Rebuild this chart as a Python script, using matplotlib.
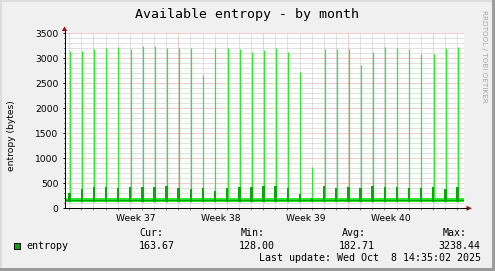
import matplotlib
matplotlib.use('Agg')
import matplotlib.pyplot as plt
from matplotlib.patches import Rectangle, Polygon
from matplotlib.lines import Line2D
from matplotlib.transforms import blended_transform_factory, offset_copy

W, H, DPI = 495, 271, 100
PX = 72.0 / DPI  # points per pixel

# ---------------- data (days since Mon 2025-09-01 00:00) ----------------
spike_days = list(range(5, 38))          # one spike per day, Sep 6 .. Oct 7
max_vals = [3153, 3153, 3193, 3213, 3227, 3193, 3238, 3238, 3213, 3213, 3213,
            2673, 3213, 3213, 3193, 3127, 3167, 3213, 3133, 2733, 832, 3187,
            3193, 3193, 2867, 3133, 3233, 3213, 3193, 3093, 3093, 3213, 3233]
avg_vals = [310, 386, 426, 426, 400, 426, 426, 426, 446, 400, 386,
            400, 346, 400, 426, 426, 446, 446, 400, 290, 200, 446,
            400, 426, 400, 446, 426, 426, 400, 400, 426, 389, 426]
base_low, base_avg, base_high = 135, 168, 205
week_starts = [7, 14, 21, 28, 35]
week_labels = ['Week 37', 'Week 38', 'Week 39', 'Week 40']
week_mids = [10.5, 17.5, 24.5, 31.5]
t_end = 37 + (14 + 35 / 60) / 24          # Wed Oct 8 14:35
t_start = t_end - 33
stat_heads = ['Cur:', 'Min:', 'Avg:', 'Max:']
stat_vals = ['163.67', '128.00', '182.71', '3238.44']
series_name = 'entropy'
title = 'Available entropy - by month'
last_update = 'Last update: Wed Oct  8 14:35:02 2025'

LIGHT = '#2fe82f'
DARK = '#08a808'
MONO = 'DejaVu Sans Mono'
SANS = 'DejaVu Sans'

fig = plt.figure(figsize=(W / DPI, H / DPI), dpi=DPI, facecolor='#f0f0f0')

ax_l, ax_r, ax_t, ax_b = 64.5, 464.5, 33.3, 208.3
ax = fig.add_axes([ax_l / W, (H - ax_b) / H, (ax_r - ax_l) / W, (ax_b - ax_t) / H])
ax.set_facecolor('white')
ax.set_xlim(t_start, t_end)
ax.set_ylim(0, 3500)
for s in ax.spines.values():
    s.set_visible(False)

# grid
gkw = dict(lw=PX, ls=(0, (1, 1)), zorder=0.5)
for d in range(5, 38):
    if d not in week_starts:
        ax.axvline(d, color='#c4c4c4', **gkw)
for d in week_starts:
    ax.axvline(d, color='#e89a9a', **gkw)
for v in range(100, 3600, 100):
    if v % 500:
        ax.axhline(v, color='#c4c4c4', **gkw)
for v in range(500, 3600, 500):
    ax.axhline(v, color='#e89a9a', **gkw)

# data
spike_t = [d + 0.06 for d in spike_days]
ax.fill_between([t_start, t_end], base_low, base_high, color=LIGHT, lw=0, zorder=2)
ax.vlines(spike_t, base_low, max_vals, color=LIGHT, lw=0.9, zorder=2)
ax.bar([t - 0.03 for t in spike_t], [a - base_low for a in avg_vals], bottom=base_low,
       width=0.2, color=DARK, lw=0, zorder=3)
ax.plot([t_start, t_end], [base_avg, base_avg], color=DARK, lw=1.3 * PX, zorder=3)

# ticks
ax.set_yticks(range(0, 3501, 500))
ax.set_yticks(range(0, 3501, 100), minor=True)
ax.set_xticks(week_starts)
ax.set_xticks(range(5, 38), minor=True)
ax.set_xticklabels([])
ax.tick_params(axis='y', which='major', direction='out', length=2 * PX, width=PX,
               pad=3, labelsize=6.6, colors='black')
ax.tick_params(axis='y', which='minor', direction='out', length=1 * PX, width=PX)
ax.tick_params(axis='x', which='both', direction='out', length=2 * PX, width=PX, color='#888888')
for lab in ax.get_yticklabels():
    lab.set_family(SANS)

trans = offset_copy(blended_transform_factory(ax.transData, ax.transAxes), fig=fig, y=-12.7, units='dots')
for m, lab in zip(week_mids, week_labels):
    ax.text(m, 0, lab, transform=trans, ha='center', va='baseline', fontsize=6.6, family=SANS)

ylab = ax.set_ylabel('entropy (bytes)', fontsize=6.6, family=SANS, labelpad=0, va='center')
ax.yaxis.set_label_coords(11.5 / W, 0.5, transform=fig.transFigure)

# decoration overlay in pixel coords
deco = fig.add_axes([0, 0, 1, 1], zorder=5)
deco.set_xlim(0, W)
deco.set_ylim(H, 0)
deco.axis('off')
deco.patch.set_alpha(0)

# borders
deco.add_patch(Rectangle((0, 0), W, 2, color='#dcdcdc', lw=0))
deco.add_patch(Rectangle((0, 0), 2, H, color='#dcdcdc', lw=0))
deco.add_patch(Rectangle((0, H - 3), W, 3, color='#9c9c9c', lw=0))
deco.add_patch(Rectangle((W - 3.5, 0), 3.5, H, color='#9c9c9c', lw=0))

# axes lines + arrows
deco.add_line(Line2D([ax_l, 467], [ax_b, ax_b], color='black', lw=PX))
deco.add_line(Line2D([ax_l, ax_l], [ax_b, 31], color='black', lw=PX))
ARROW = '#8b1010'
deco.add_patch(Polygon([[466.5, ax_b - 2.5], [466.5, ax_b + 2.5], [472, ax_b]], closed=True,
                       color=ARROW, lw=0))
deco.add_patch(Polygon([[ax_l - 2.7, 31], [ax_l + 2.7, 31], [ax_l, 26.5]], closed=True,
                       color=ARROW, lw=0))

# title
deco.text(247, 18, title, ha='center', va='baseline', fontsize=9.5, family=MONO)
# watermark
deco.text(484.3, 56.5, 'RRDTOOL / TOBI OETIKER', rotation=270, ha='center', va='center',
          fontsize=5.2, family=SANS, color='#a8a8a8')

# legend
deco.add_patch(Rectangle((13.5, 242.8), 6.8, 6.5, facecolor='#00aa00', edgecolor='black', lw=PX))
deco.text(26.7, 249, series_name, ha='left', va='baseline', fontsize=7.2, family=MONO)
head_x = [139.3, 240.3, 341.7, 442.7]
val_x = [138.3, 238.3, 338.3, 438.3]
for hx, h in zip(head_x, stat_heads):
    deco.text(hx, 236.3, h, ha='left', va='baseline', fontsize=7.2, family=MONO)
for vx, v in zip(val_x, stat_vals):
    deco.text(vx, 249, v, ha='left', va='baseline', fontsize=7.2, family=MONO)
deco.text(259.3, 260.7, last_update, ha='left', va='baseline', fontsize=7.2, family=MONO)

fig.savefig('out.png', dpi=DPI, facecolor=fig.get_facecolor())
